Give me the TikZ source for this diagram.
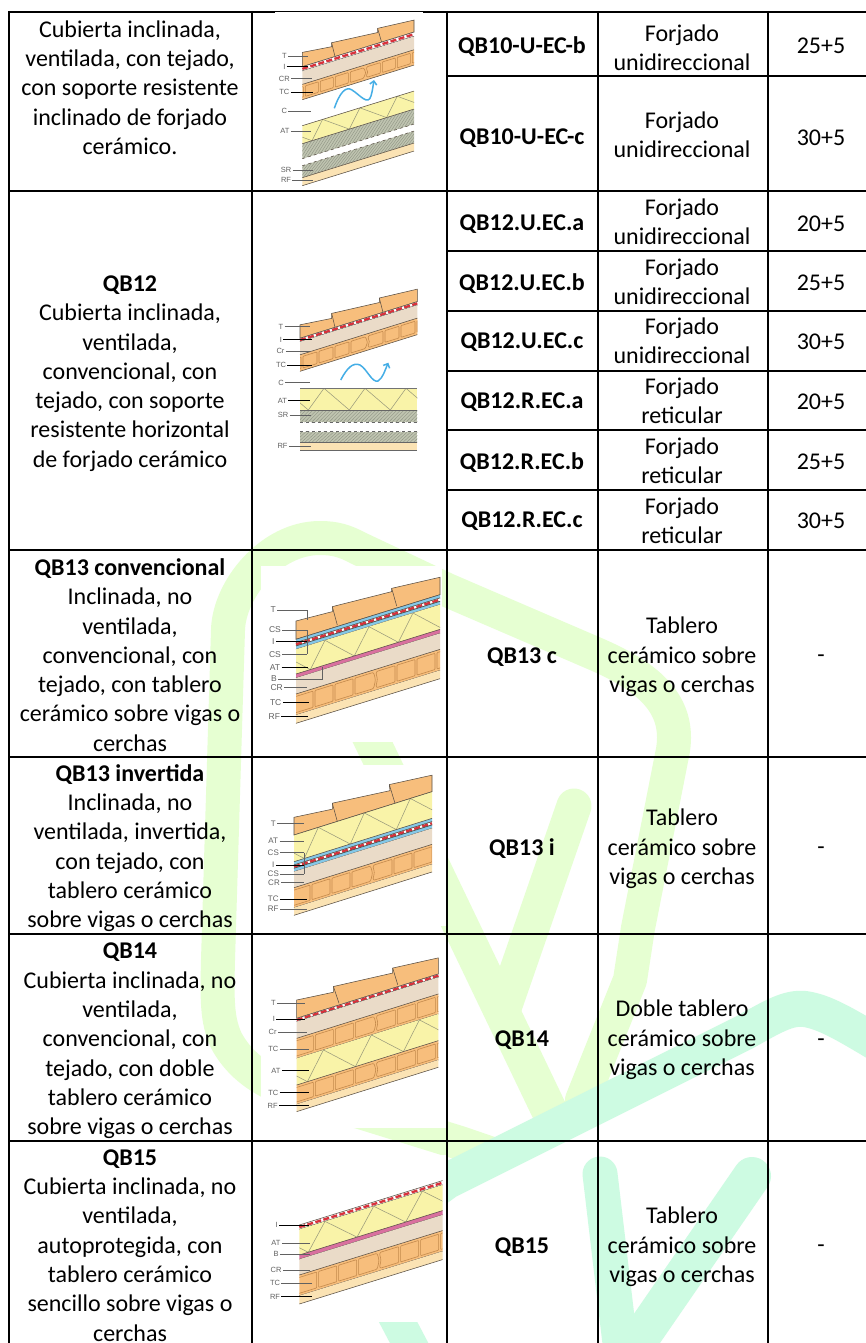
\documentclass[tikz,border=0pt]{standalone}
\usepackage{fontspec}
\setmainfont{Carlito}
\newfontfamily\labf{Liberation Sans}
\usetikzlibrary{arrows.meta}
\definecolor{limew}{HTML}{E6FFD2}
\definecolor{mintw}{HTML}{CDFBE2}
\definecolor{tilec}{HTML}{F7BE7C}
\definecolor{crc}{HTML}{EADBC8}
\definecolor{atc}{HTML}{F9F3A8}
\definecolor{src}{HTML}{BFC4B0}
\definecolor{rfc}{HTML}{FBE3B4}
\definecolor{csc}{HTML}{84C8E8}
\definecolor{bc}{HTML}{D9709F}
\definecolor{redc}{HTML}{D8323C}
\definecolor{wavec}{HTML}{45AEE6}
\definecolor{edgec}{HTML}{5A5045}
\definecolor{cellc}{HTML}{C48A4C}
\definecolor{trussc}{HTML}{9A9A7C}
\tikzset{
  gridline/.style={line width=2pt,black},
  txt/.style={align=center,inner sep=0pt,font=\fontsize{24}{29.3}\selectfont},
  txtb/.style={txt,font=\fontsize{24}{29.3}\selectfont\bfseries},
  markw/.style={line width=34pt,line cap=round,line join=round},
  edgeline/.style={line width=0.55pt,edgec},
  cellline/.style={line width=0.6pt,cellc,rounded corners=0.7pt},
  trussline/.style={line width=0.55pt,trussc},
  hatchline/.style={line width=0.4pt,black!25!src},
  tileshape/.style={fill=tilec,draw=edgec,line width=0.55pt},
  lab/.style={text=black!62,inner sep=1.2pt,font=\labf\fontsize{\ls}{\ls}\selectfont},
  lead/.style={line width=0.7pt,black!62},
  leadk/.style={line width=0.8pt,black},
  wave/.style={line width=1.5pt,wavec,-{Straight Barb[length=3.5pt,width=7pt]}},
}
\def\W{100}
\def\ls{7.5}
\newcommand{\band}[3]{\fill[#1] (0,#2)--(\W,#2)--(\W,#3)--(0,#3)--cycle;}
\newcommand{\eline}[1]{\draw[edgeline] (0,#1)--(\W,#1);}
\newcommand{\truss}[5]{%
  \begin{scope}
    \clip (0,#1)--(\W,#1)--(\W,#2)--(0,#2)--cycle;
    \foreach \k in {-1,...,4}{%
      \pgfmathsetmacro\ub{#3+\k*#5}%
      \pgfmathsetmacro\ut{\ub+#4}%
      \pgfmathsetmacro\un{\ub+#5}%
      \draw[trussline] (\ub,#2)--(\ut,#1)--(\un,#2);
    }
  \end{scope}}
\newcommand{\tcb}[4]{%
  \band{tilec}{#1}{#2}
  \begin{scope}
    \clip (0,#1)--(\W,#1)--(\W,#2)--(0,#2)--cycle;
    \pgfmathsetmacro\ca{#1+2.4}%
    \pgfmathsetmacro\cb{#2-2.4}%
    \pgfmathsetmacro\cm{(#1+#2)/2}%
    \pgfmathsetmacro\jr{#3+1}%
    \pgfmathsetmacro\jl{#3-#4+2}%
    \pgfmathsetmacro\rr{#3+4+#4-2}%
    \draw[cellline] (\jl,\ca)--(#3,\ca)--(\jr,\ca+1.6) .. controls (#3+2.6,\cm) and (#3+2.6,\cm) .. (\jr,\cb-1.6)--(#3,\cb)--(\jl,\cb)--cycle;
    \draw[cellline] (#3+4,\ca)--(#3+3,\ca+1.6) .. controls (#3+4.6,\cm) and (#3+4.6,\cm) .. (#3+3,\cb-1.6)--(#3+4,\cb)--(\rr,\cb)--(\rr,\ca)--cycle;
    \foreach \k in {1,...,5}{%
      \pgfmathsetmacro\xa{#3-(\k+1)*#4+2}%
      \pgfmathsetmacro\xb{#3-\k*#4}%
      \pgfmathsetmacro\xc{#3+4+\k*#4}%
      \pgfmathsetmacro\xd{#3+4+(\k+1)*#4-2}%
      \draw[cellline] (\xa,\ca)--(\xb,\ca)--(\xb,\cb)--(\xa,\cb)--cycle;
      \draw[cellline] (\xc,\ca)--(\xd,\ca)--(\xd,\cb)--(\xc,\cb)--cycle;
    }
  \end{scope}
  \eline{#1}\eline{#2}}
\newcommand{\srb}[2]{%
  \band{src}{#1}{#2}
  \begin{scope}
    \clip (0,#1)--(\W,#1)--(\W,#2)--(0,#2)--cycle;
    \foreach \i in {-20,-16.5,...,130}{%
      \draw[hatchline] (\i,#2)--(\i+12,#1);
    }
  \end{scope}}
\newcommand{\ins}[2]{%
  \band{white}{#1}{#2}
  \pgfmathsetmacro\im{(#1+#2)/2}%
  \draw[redc,line width=2.4pt,dash pattern=on 6pt off 2.4pt] (0,\im)--(\W,\im);
  \draw[line width=0.7pt,black!80] (0,#2)--(\W,#2);
  \eline{#1}}
\newcommand{\csb}[2]{\band{csc}{#1}{#2}\eline{#1}\eline{#2}}
\newcommand{\rlab}[6]{%
  \node[lab] (#1) at (#3,#4) {#2};
  \coordinate (#1-e) at (#5,#4);
  \draw[#6] (#1) -- (#1-e);}
\begin{document}
\begin{tikzpicture}[x=1pt,y=-1pt]
\useasboundingbox (0,0) rectangle (866,1343);
\fill[white] (0,0) rectangle (866,1343);
% ---------- watermark
\draw[markw,limew] (495,1155) -- (460,1143) -- (360,1112)
  .. controls (300,1096) and (250,1085) .. (226,1040)
  .. controls (217,1020) and (217,1000) .. (218,960)
  -- (228,630) .. controls (229,590) and (270,538) .. (320,538)
  .. controls (335,538) and (345,541) .. (358,548)
  -- (447,590) -- (598,655)
  .. controls (650,678) and (680,705) .. (673,750)
  -- (638,928) -- (630,980) -- (582,1100);
\draw[markw,limew,line width=36pt] (362,720) -- (549,1110);
\draw[markw,limew,line width=35pt] (574,806) -- (505,1005);
\draw[markw,mintw,line width=36pt] (380,1230) -- (447,1181) -- (745,1032)
  .. controls (772,1017) and (788,1007) .. (805,1009)
  .. controls (825,1012) and (845,1024) .. (885,1048);
\draw[markw,mintw,line width=35pt] (600,1174) -- (622,1360);
\draw[markw,mintw,line width=38pt] (752,1176) -- (630,1353);
\draw[markw,mintw,line cap=butt] (385,1297) -- (417,1358);
% image backgrounds
\fill[white] (261,566) rectangle (441.5,742);
\fill[white] (252,765) rectangle (447,926);
\fill[white] (261,944) rectangle (447,1128);
\fill[white] (252,1155) rectangle (447,1322);
% ---------- grid
\foreach \xx in {9.4,252,447,598,768}{\draw[gridline] (\xx,11) -- (\xx,1343);}
\foreach \yy in {12,190.7,550,757,934,1140.7}{\draw[gridline] (8.4,\yy) -- (866,\yy);}
\foreach \yy in {76,250.5,310.5,370.5,430,490}{\draw[gridline] (447,\yy) -- (866,\yy);}
\fill[white] (275,12) rectangle (423,13.2);
% ---------- D1
\begin{scope}[shift={(302.3,66.7)},yslant=0.31]
\def\W{111.7}
\draw[tileshape] (0,0)--(0,-14.3)--(29.3,-10.9)--(29.3,-14.9)--(75.5,-10.8)--(75.3,-15)--(\W,-12)--(\W,0)--cycle;
\draw[edgeline] (29.3,-14.9)--(32.7,0) (75.3,-15)--(79.3,0);
\ins{0}{4.3}
\band{crc}{4.3}{17.7}
\tcb{17.7}{33}{61}{15}
\band{atc}{59}{77}
\truss{59}{77}{9.7}{10.6}{37.3}
\eline{59}
\srb{77}{92}
\eline{77}
\draw[edgeline,dashed] (0,92)--(\W,92);
\srb{99}{111}
\draw[edgeline,dashed] (0,99)--(\W,99);
\band{rfc}{111}{119}
\eline{111}\eline{119}
\end{scope}
\draw[wave] (334.3,108.3) .. controls (340,92) and (346,86) .. (352,90) .. controls (360,95) and (368,106) .. (371,96) .. controls (372.5,91) and (373,86) .. (374,80);
\def\ls{7.5}
\rlab{a1}{T}{284.3}{56}{308}{lead}
\rlab{a2}{I}{284.3}{66.7}{308}{leadk}
\rlab{a3}{CR}{284.3}{78.7}{311.7}{lead}
\rlab{a4}{TC}{284.3}{92.3}{312.7}{leadk}
\rlab{a5}{C}{284.3}{111}{311}{lead}
\rlab{a6}{AT}{285}{131}{311}{lead}
\rlab{a7}{SR}{286}{170}{312.7}{lead}
\rlab{a8}{RF}{286}{180}{312.7}{lead}
% ---------- D2
\begin{scope}[shift={(300,338.3)},yslant=0.3125]
\def\W{117.3}
\draw[tileshape] (0,0)--(0,-13.5)--(31.7,-10)--(31.7,-15)--(79.3,-11)--(79.3,-15.5)--(\W,-12.5)--(\W,0)--cycle;
\draw[edgeline] (31.7,-15)--(35,0) (79.3,-15.5)--(83,0);
\ins{0}{3.5}
\band{crc}{3.5}{16.5}
\tcb{16.5}{33}{65}{16}
\end{scope}
\begin{scope}[shift={(300,0)}]
\def\W{117.3}
\band{atc}{388.3}{410}
\truss{388.3}{410}{8.3}{15.7}{41}
\draw[line width=0.9pt,black!55] (0,388.3)--(\W,388.3);
\srb{410}{422.3}
\draw[line width=0.9pt,black!60] (0,410)--(\W,410);
\draw[line width=0.9pt,black!60,dashed] (0,422.3)--(\W,422.3);
\srb{431.7}{442.7}
\draw[line width=0.9pt,black!60,dashed] (0,431.7)--(\W,431.7);
\band{rfc}{442.7}{450}
\draw[line width=0.9pt,black!60] (0,442.7)--(\W,442.7) (0,450)--(\W,450);
\end{scope}
\draw[wave] (340.7,380) .. controls (347,368) and (353,362) .. (360,365) .. controls (367,369) and (372,383) .. (378,381) .. controls (383,378) and (385,370) .. (388.3,362.7);
\rlab{b1}{T}{281}{326.7}{310}{lead}
\rlab{b2}{I}{281}{339.7}{311.7}{leadk}
\rlab{b3}{Cr}{280.5}{351}{310}{lead}
\rlab{b4}{TC}{281}{365}{311.7}{leadk}
\rlab{b5}{C}{281}{382.7}{310}{lead}
\rlab{b6}{AT}{282.5}{400.7}{310}{leadk}
\rlab{b7}{SR}{283}{415}{311}{lead}
\rlab{b8}{RF}{282.5}{446}{311}{lead}
% ---------- D3
\begin{scope}[shift={(296,639.3)},yslant=0.31]
\def\W{144}
\draw[tileshape] (0,0)--(0,-18.3)--(36.3,-16.4)--(36.3,-21.4)--(95.7,-18)--(95.7,-21.3)--(\W,-17.4)--(\W,0)--cycle;
\draw[edgeline] (36.3,-21.4)--(41.3,-1.5) (95.7,-21.3)--(100.7,-2);
\csb{0}{3.3}
\ins{3.3}{6.7}
\csb{6.7}{10}
\band{atc}{10}{34.7}
\truss{10}{34.7}{14.3}{14.7}{44}
\band{bc}{34.7}{38.7}
\eline{34.7}\eline{38.7}
\band{crc}{38.7}{54.7}
\tcb{54.7}{75.7}{77}{20}
\band{rfc}{75.7}{84}
\eline{84}
\end{scope}
\def\ls{8.5}
\node[lab] (c1) at (273.3,610) {T};
\coordinate (c1-e) at (307.3,610);
\coordinate (c1-f) at (307.3,620);
\draw[lead] (c1) -- (c1-e) -- (c1-f);
\rlab{c2}{CS}{275}{630}{307.3}{lead}
\rlab{c3}{I}{273.3}{641.7}{307.3}{leadk}
\rlab{c4}{CS}{275}{654.3}{307.3}{lead}
\draw[lead] (c2-e) -- (c4-e);
\rlab{c5}{AT}{275}{667.7}{308.3}{leadk}
\node[lab] (c6) at (274,679) {B};
\coordinate (c6-e) at (322.7,679);
\coordinate (c6-f) at (322.7,667.3);
\draw[lead] (c6) -- (c6-e) -- (c6-f);
\rlab{c7}{CR}{276.7}{687.7}{307.3}{lead}
\rlab{c8}{TC}{275.7}{702.3}{309.3}{leadk}
\rlab{c9}{RF}{274.3}{716.7}{308.3}{leadk}
% ---------- D4
\begin{scope}[shift={(294,835)},yslant=0.314]
\def\W{138}
\draw[tileshape] (0,0)--(0,-17.7)--(38.3,-13.8)--(38.3,-19.8)--(96,-14.2)--(95.3,-20.5)--(\W,-16.5)--(\W,0)--cycle;
\draw[edgeline] (38.3,-19.8)--(43.3,0) (95.3,-20.5)--(101,0);
\band{atc}{0}{26.7}
\truss{0}{26.7}{10.3}{14}{46}
\eline{0}
\csb{26.7}{30}
\ins{30}{33.3}
\csb{33.3}{36.7}
\band{crc}{36.7}{52.7}
\tcb{52.7}{72.7}{76}{20}
\band{rfc}{72.7}{80.3}
\eline{80.3}
\end{scope}
\def\ls{8}
\rlab{d1}{T}{273.3}{823.3}{304.3}{lead}
\rlab{d2}{AT}{273.3}{841}{304.3}{lead}
\rlab{d3}{CS}{273.3}{852.7}{304.3}{lead}
\rlab{d4}{I}{273.3}{865}{304.3}{leadk}
\rlab{d5}{CS}{273.3}{874}{304.3}{lead}
\draw[lead] (d3-e) -- (d5-e);
\rlab{d6}{CR}{274}{882.3}{304.3}{lead}
\rlab{d7}{TC}{273.3}{899}{306.7}{leadk}
\rlab{d8}{RF}{273.3}{909}{306.7}{lead}
% ---------- D5
\begin{scope}[shift={(296.7,1018.3)},yslant=0.313]
\def\W{141.7}
\draw[tileshape] (0,0)--(0,-18.3)--(36.7,-14.6)--(36.7,-20.3)--(96,-15.2)--(96,-20.2)--(\W,-16.1)--(\W,0)--cycle;
\draw[edgeline] (36.7,-20.3)--(42.3,-1.9) (96,-20.2)--(101,-2);
\ins{0}{3.3}
\band{crc}{3.3}{20}
\tcb{20}{40}{76.7}{20}
\band{atc}{40}{66.7}
\truss{40}{66.7}{10.7}{16}{48}
\tcb{66.7}{86}{76.7}{20}
\band{rfc}{86}{93.3}
\eline{93.3}
\end{scope}
\def\ls{7.5}
\rlab{e1}{T}{273.3}{1003.3}{305}{lead}
\rlab{e2}{I}{274}{1019.3}{305}{leadk}
\rlab{e3}{Cr}{272.7}{1032.3}{307.3}{lead}
\rlab{e4}{TC}{273.3}{1049.3}{309.3}{lead}
\rlab{e5}{AT}{276}{1070.7}{309.3}{leadk}
\rlab{e6}{TC}{273.3}{1092.7}{309.3}{leadk}
\rlab{e7}{RF}{272.7}{1105.7}{309.3}{leadk}
% ---------- D6
\begin{scope}[shift={(299.3,1225)},yslant=0.31]
\def\W{143.3}
\ins{0}{4.3}
\band{atc}{4.3}{30}
\truss{4.3}{30}{9}{16.7}{48.7}
\band{bc}{30}{34.3}
\eline{30}\eline{34.3}
\band{crc}{34.3}{50}
\tcb{50}{70.7}{77.3}{20}
\band{rfc}{70.7}{79}
\eline{79}
\end{scope}
\rlab{f1}{I}{276.7}{1225}{309.3}{leadk}
\rlab{f2}{AT}{276}{1243.3}{310}{lead}
\rlab{f3}{B}{276}{1254}{310}{lead}
\rlab{f4}{CR}{276}{1270}{310}{lead}
\rlab{f5}{TC}{275}{1283.3}{311.7}{lead}
\rlab{f6}{RF}{275}{1296.7}{311.7}{leadk}
% ---------- column 1
\node[txt] (n1) at (130,87.5) {Cubierta inclinada,\\ventilada, con tejado,\\con soporte resistente\\inclinado de forjado\\cerámico.};
\node[txt] (n2) at (130,373.5) {\textbf{QB12}\\Cubierta inclinada,\\ventilada,\\convencional, con\\tejado, con soporte\\resistente horizontal\\de forjado cerámico};
\node[txt] (n3) at (130,655) {\textbf{QB13 convencional}\\Inclinada, no\\ventilada,\\convencional, con\\tejado, con tablero\\cerámico sobre vigas o\\cerchas};
\node[txt] (n4) at (130,848) {\textbf{QB13 invertida}\\Inclinada, no\\ventilada, invertida,\\con tejado, con\\tablero cerámico\\sobre vigas o cerchas};
\node[txt] (n5) at (130,1041) {\textbf{QB14}\\Cubierta inclinada, no\\ventilada,\\convencional, con\\tejado, con doble\\tablero cerámico\\sobre vigas o cerchas};
\node[txt] (n6) at (130,1245.5) {\textbf{QB15}\\Cubierta inclinada, no\\ventilada,\\autoprotegida, con\\tablero cerámico\\sencillo sobre vigas o\\cerchas};
% ---------- column 2
\node[txtb] (m1) at (522,46.5) {QB10-U-EC-b};
\node[txtb] (m2) at (522,138.5) {QB10-U-EC-c};
\node[txtb] (m3) at (522,224.5) {QB12.U.EC.a};
\node[txtb] (m4) at (522,283.5) {QB12.U.EC.b};
\node[txtb] (m5) at (522,342.5) {QB12.U.EC.c};
\node[txtb] (m6) at (522,402.5) {QB12.R.EC.a};
\node[txtb] (m7) at (522,462.5) {QB12.R.EC.b};
\node[txtb] (m8) at (522,521.5) {QB12.R.EC.c};
\node[txtb] (m9) at (522,657) {QB13 c};
\node[txtb] (m10) at (522,849) {QB13 i};
\node[txtb] (m11) at (522,1040) {QB14};
\node[txtb] (m12) at (522,1247) {QB15};
% ---------- column 3
\node[txt] (p1) at (682,47.5) {Forjado\\unidireccional};
\node[txt] (p2) at (682,134.5) {Forjado\\unidireccional};
\node[txt] (p3) at (682,221.5) {Forjado\\unidireccional};
\node[txt] (p4) at (682,281.5) {Forjado\\unidireccional};
\node[txt] (p5) at (682,340.5) {Forjado\\unidireccional};
\node[txt] (p6) at (682,400.5) {Forjado\\reticular};
\node[txt] (p7) at (682,460.5) {Forjado\\reticular};
\node[txt] (p8) at (682,520.5) {Forjado\\reticular};
\node[txt] (p9) at (682,657) {Tablero\\cerámico sobre\\vigas o cerchas};
\node[txt] (p10) at (682,849) {Tablero\\cerámico sobre\\vigas o cerchas};
\node[txt] (p11) at (682,1040) {Doble tablero\\cerámico sobre\\vigas o cerchas};
\node[txt] (p12) at (682,1247) {Tablero\\cerámico sobre\\vigas o cerchas};
% ---------- column 4
\node[txt] (q1) at (821,46) {25+5};
\node[txt] (q2) at (821,138) {30+5};
\node[txt] (q3) at (821,224) {20+5};
\node[txt] (q4) at (821,283) {25+5};
\node[txt] (q5) at (821,342) {30+5};
\node[txt] (q6) at (821,402) {20+5};
\node[txt] (q7) at (821,462) {25+5};
\node[txt] (q8) at (821,521) {30+5};
\node[txt] (q9) at (821,659) {-};
\node[txt] (q10) at (821,851) {-};
\node[txt] (q11) at (821,1043) {-};
\node[txt] (q12) at (821,1249) {-};
\end{tikzpicture}
\end{document}
